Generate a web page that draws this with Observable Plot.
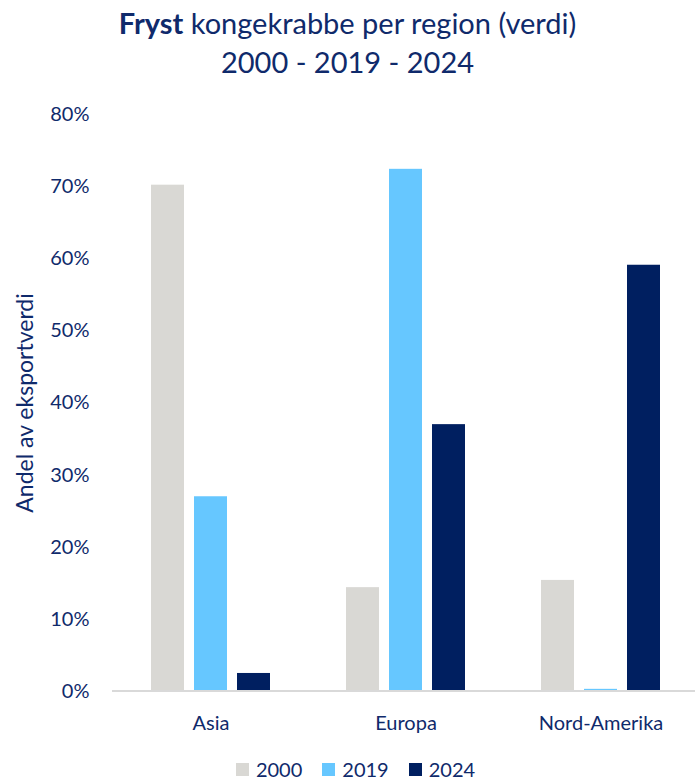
<!DOCTYPE html>
<html>
<head>
<meta charset="utf-8">
<script src="https://cdn.jsdelivr.net/npm/d3@7"></script>
<script src="https://cdn.jsdelivr.net/npm/@observablehq/plot@0.6"></script>
<style>
  html, body { margin: 0; padding: 0; background: #fff; }
  body { width: 695px; height: 784px; overflow: hidden; font-family: Lato, "Liberation Sans", sans-serif; color: #0f2a6b; }
  #title { height: 95px; text-align: center; box-sizing: border-box; padding-top: 4px; }
  #title .l1 { font-size: 29px; line-height: 38px; }
  #title .l2 { font-size: 29px; line-height: 40px; }
  #legend { display: flex; justify-content: center; align-items: center; gap: 20px; font-size: 20px; line-height: 22px; margin-top: 13px; padding-left: 16px; }
  #legend .item { display: flex; align-items: center; gap: 7px; }
  #legend .sw { width: 13px; height: 13px; display: inline-block; }
</style>
</head>
<body>
<div id="title">
  <div class="l1"><b>Fryst</b> kongekrabbe per region (verdi)</div>
  <div class="l2">2000 - 2019 - 2024</div>
</div>
<div id="chart"></div>
<div id="legend"></div>
<script>
const regions = ["Asia", "Europa", "Nord-Amerika"];
const years = ["2000", "2019", "2024"];
const values2000 = [0.702, 0.144, 0.154];
const values2019 = [0.270, 0.724, 0.003];
const values2024 = [0.025, 0.370, 0.591];
const yTicks = [0, 0.1, 0.2, 0.3, 0.4, 0.5, 0.6, 0.7, 0.8];
const colors = ["#d9d8d4", "#66c7ff", "#001f60"];
const textColor = "#0f2a6b";

const series = [values2000, values2019, values2024];
const data = [];
regions.forEach((r, i) => years.forEach((y, j) => data.push({region: r, year: y, value: series[j][i]})));

const chart = Plot.plot({
  width: 695,
  height: 650,
  marginLeft: 112,
  marginRight: -5,
  marginTop: 19,
  marginBottom: 54,
  style: {fontFamily: "Lato, 'Liberation Sans', sans-serif", fontSize: "20px", color: textColor, background: "#fff"},
  fx: {domain: regions, paddingInner: 0.2755, paddingOuter: 0.1378, axis: "bottom", tickSize: 0, tickPadding: 24, label: null},
  x: {domain: years, axis: null, paddingInner: 0.227, paddingOuter: 0.227},
  y: {domain: [0, 0.8], ticks: yTicks, tickFormat: d3.format(".0%"), tickSize: 0, tickPadding: 51,
      label: "Andel av eksportverdi", labelAnchor: "center", labelArrow: "none", labelOffset: 124},
  color: {domain: years, range: colors},
  marks: [
    Plot.barY(data, {fx: "region", x: "year", y: "value", fill: "year"})
  ]
});
document.getElementById("chart").appendChild(chart);

// enlarge the y-axis title only
d3.select(chart).selectAll("text").filter(function() { return this.textContent === "Andel av eksportverdi"; })
  .style("font-size", "23px");

// full-width baseline at y = 0, positioned through the plot's y scale
const yScale = chart.scale("y");
const y0 = yScale.apply(0);
d3.select(chart).append("line")
  .attr("x1", 112).attr("x2", 695)
  .attr("y1", y0).attr("y2", y0)
  .attr("stroke", "#d9d9d9").attr("stroke-width", 2);

const legend = document.getElementById("legend");
years.forEach((y, i) => {
  const it = document.createElement("div");
  it.className = "item";
  it.innerHTML = `<span class="sw" style="background:${colors[i]}"></span><span>${y}</span>`;
  legend.appendChild(it);
});
</script>
</body>
</html>
